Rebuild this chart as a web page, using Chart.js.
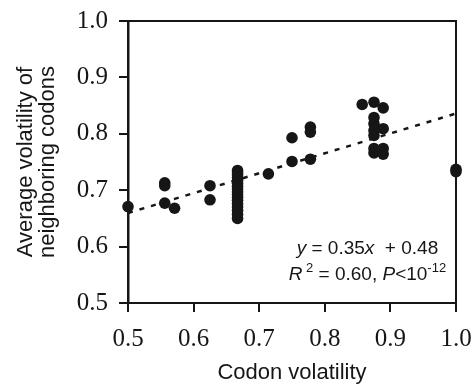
<!DOCTYPE html>
<html>
<head>
<meta charset="utf-8">
<script src="https://cdn.jsdelivr.net/npm/chart.js@4"></script>
<style>
  html, body { margin: 0; padding: 0; background: #fff; }
  #wrap { width: 474px; height: 385px; }
</style>
</head>
<body>
<div id="wrap"><canvas id="chart" width="474" height="385"></canvas></div>
<script>
// codon volatility (x) vs average volatility of neighbouring codons (y)
const codonVolatility = [
  0.5,
  0.556, 0.556, 0.556,
  0.571,
  0.625, 0.625,
  0.667, 0.667, 0.667, 0.667, 0.667, 0.667, 0.667, 0.667, 0.667,
  0.667, 0.667, 0.667, 0.667, 0.667, 0.667, 0.667, 0.667,
  0.714,
  0.75, 0.75,
  0.778, 0.778, 0.778,
  0.857,
  0.875, 0.875, 0.875, 0.875, 0.875, 0.875, 0.875,
  0.889, 0.889, 0.889, 0.889,
  1.0, 1.0
];
const neighborVolatility = [
  0.671,
  0.713, 0.708, 0.677,
  0.668,
  0.708, 0.683,
  0.735, 0.731, 0.727, 0.722, 0.717, 0.712, 0.707, 0.702, 0.697,
  0.692, 0.687, 0.682, 0.676, 0.670, 0.664, 0.657, 0.650,
  0.729,
  0.793, 0.751,
  0.812, 0.803, 0.755,
  0.852,
  0.856, 0.829, 0.818, 0.806, 0.797, 0.774, 0.766,
  0.846, 0.809, 0.774, 0.764,
  0.737, 0.733
];
// fitted line end points
const fitX = [0.5, 1.0];
const fitY = [0.6595, 0.836];

const xTicks = [0.5, 0.6, 0.7, 0.8, 0.9, 1.0];
const yTicks = [0.5, 0.6, 0.7, 0.8, 0.9, 1.0];

const ink = '#161616';
const serif = '"Liberation Serif", "Times New Roman", serif';
const sans = '"Liberation Sans", Arial, sans-serif';

// top and right edges of the box
const framePlugin = {
  id: 'frame',
  afterDraw(chart) {
    const { ctx, chartArea: a } = chart;
    ctx.save();
    ctx.strokeStyle = ink;
    ctx.lineWidth = 2;
    ctx.beginPath();
    ctx.moveTo(a.left, a.top);
    ctx.lineTo(a.right, a.top);
    ctx.lineTo(a.right, a.bottom);
    ctx.stroke();
    ctx.restore();
  }
};

// regression equation, with italics and superscripts
const equationPlugin = {
  id: 'equation',
  afterDraw(chart) {
    const { ctx, chartArea: a } = chart;
    const size = 19, sup = 13;
    const lines = [
      [['y', 'i'], [' = 0.35', 'n'], ['x', 'i'], ['  + 0.48', 'n']],
      [['R', 'i'], [' 2', 's'], [' = 0.60, ', 'n'], ['P', 'i'], ['<10', 'n'], ['-12', 's']]
    ];
    const fontOf = k => k === 'i' ? `italic ${size}px ${sans}` : k === 's' ? `${sup}px ${sans}` : `${size}px ${sans}`;
    const cx = a.left + (a.right - a.left) * 0.73;
    const baselines = [a.top + 233, a.top + 259];
    ctx.save();
    ctx.fillStyle = ink;
    ctx.textBaseline = 'alphabetic';
    ctx.textAlign = 'left';
    lines.forEach((parts, i) => {
      let w = 0;
      parts.forEach(([t, k]) => { ctx.font = fontOf(k); w += ctx.measureText(t).width; });
      let x = cx - w / 2;
      parts.forEach(([t, k]) => {
        ctx.font = fontOf(k);
        ctx.fillText(t, x, baselines[i] - (k === 's' ? 8 : 0));
        x += ctx.measureText(t).width;
      });
    });
    ctx.restore();
  }
};

const points = codonVolatility.map((x, i) => ({ x, y: neighborVolatility[i] }));
const fit = fitX.map((x, i) => ({ x, y: fitY[i] }));

new Chart(document.getElementById('chart'), {
  type: 'scatter',
  data: {
    datasets: [
      {
        type: 'line',
        data: fit,
        borderColor: ink,
        borderWidth: 2.5,
        borderDash: [5, 7],
        pointRadius: 0,
        fill: false,
        clip: false,
        order: 2
      },
      {
        data: points,
        backgroundColor: ink,
        borderColor: ink,
        borderWidth: 0,
        pointRadius: 5.8,
        clip: false,
        order: 1
      }
    ]
  },
  options: {
    responsive: false,
    animation: false,
    events: [],
    layout: { padding: { top: 21, right: 18, bottom: 0, left: 0 } },
    plugins: { legend: { display: false }, tooltip: { enabled: false } },
    scales: {
      x: {
        type: 'linear',
        min: 0.5,
        max: 1.0,
        afterBuildTicks: s => { s.ticks = xTicks.map(v => ({ value: v })); },
        afterFit: s => { s.height = 82; s.paddingLeft = 0; s.paddingRight = 0; },
        border: { display: true, color: ink, width: 2 },
        grid: { drawOnChartArea: false, drawTicks: true, tickLength: 9, color: ink, lineWidth: 2 },
        ticks: {
          color: ink,
          padding: 12,
          font: { family: serif, size: 25 },
          callback: v => v.toFixed(1)
        },
        title: {
          display: true,
          text: 'Codon volatility',
          color: ink,
          font: { family: sans, size: 22, lineHeight: 1 },
          padding: { top: 0, bottom: 1 }
        }
      },
      y: {
        type: 'linear',
        min: 0.5,
        max: 1.0,
        afterBuildTicks: s => { s.ticks = yTicks.map(v => ({ value: v })); },
        afterFit: s => { s.width = 128; s.paddingTop = 0; s.paddingBottom = 0; },
        border: { display: true, color: ink, width: 2.5 },
        grid: { drawOnChartArea: false, drawTicks: true, tickLength: 9, color: ink, lineWidth: 2 },
        ticks: {
          color: ink,
          padding: 11,
          font: { family: serif, size: 25 },
          callback: v => v.toFixed(1)
        },
        title: {
          display: true,
          text: ['Average volatility of', 'neighboring codons'],
          color: ink,
          font: { family: sans, size: 22, lineHeight: 1 },
          padding: { top: 15, bottom: 0 }
        }
      }
    }
  },
  plugins: [framePlugin, equationPlugin]
});
</script>
</body>
</html>
